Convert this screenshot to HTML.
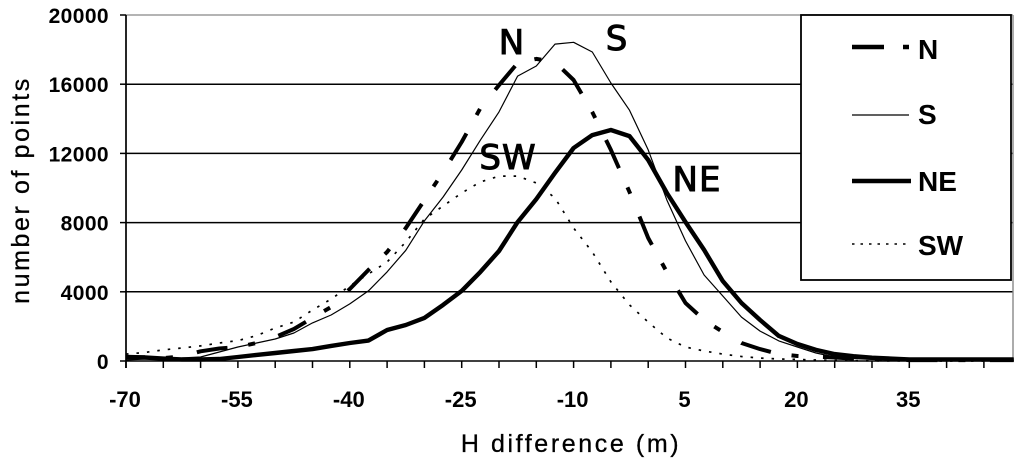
<!DOCTYPE html>
<html>
<head>
<meta charset="utf-8">
<style>
html,body{margin:0;padding:0;background:#fff;width:1024px;height:468px;overflow:hidden}
svg{display:block;filter:blur(0.35px)}
text{font-family:"Liberation Sans",Arial,sans-serif;fill:#000}
.tick{font-size:21px;font-weight:bold}
.xtick{font-size:22px;font-weight:bold}
.leg{font-size:28px;font-weight:bold}
.ann{font-family:"DejaVu Sans",sans-serif;font-size:34px;text-anchor:middle;stroke:#000;stroke-width:1px;letter-spacing:1px}
.title{stroke:#000;stroke-width:.3px}
</style>
</head>
<body>
<svg id="chart" width="1024" height="468" viewBox="0 0 1024 468" xmlns="http://www.w3.org/2000/svg">
<g id="grid"></g>
<g id="axes"></g>
<g id="series"></g>
<g id="labels"></g>
<text class="title" x="29" y="190" transform="rotate(-90 29 190)" text-anchor="middle" font-size="25" letter-spacing="2.6">number of points</text>
<text class="title" x="571" y="452" text-anchor="middle" font-size="25" letter-spacing="2.6">H difference (m)</text>
<text class="ann" x="512" y="54">N</text>
<text class="ann" x="617" y="50">S</text>
<text class="ann" x="508" y="169">SW</text>
<text class="ann" x="697" y="191">NE</text>
<g>
<rect x="801" y="15" width="210" height="265" fill="#fff" stroke="#000" stroke-width="1.8"/>
<line x1="852" y1="47" x2="884" y2="47" stroke="#000" stroke-width="4.5"/>
<line x1="903" y1="47" x2="909" y2="47" stroke="#000" stroke-width="4.5"/>
<text class="leg" x="918" y="59">N</text>
<line x1="852" y1="115" x2="909" y2="115" stroke="#000" stroke-width="1.2"/>
<text class="leg" x="918" y="124">S</text>
<line x1="852" y1="181" x2="911" y2="181" stroke="#000" stroke-width="4.5"/>
<text class="leg" x="918" y="191">NE</text>
<line x1="852" y1="244" x2="909" y2="244" stroke="#000" stroke-width="1.6" stroke-dasharray="2.5 6"/>
<text class="leg" x="918" y="255">SW</text>
</g>
</svg>
<script>
var hDiff = [-70,-67.5,-65,-62.5,-60,-57.5,-55,-52.5,-50,-47.5,-45,-42.5,-40,-37.5,-35,-32.5,-30,-27.5,-25,-22.5,-20,-17.5,-15,-12.5,-10,-7.5,-5,-2.5,0,2.5,5,7.5,10,12.5,15,17.5,20,22.5,25,27.5,30,35,40,49];
var seriesN = [220,220,170,260,560,720,810,1040,1390,1850,2490,3120,4160,5260,6300,7690,9300,10920,12660,14620,15950,17220,17460,17280,16240,14390,12200,9770,7110,5140,3350,2370,1680,1040,690,400,290,240,200,140,100,50,50,50];
var seriesS = [60,115,145,175,230,520,810,1040,1270,1620,2200,2660,3300,4050,5150,6400,8100,9480,11040,12770,14400,16470,17050,18320,18420,17860,16070,14500,12200,9300,6940,4970,3760,2540,1730,1160,810,460,230,145,90,60,50,40];
var seriesNE = [230,200,140,90,90,115,230,350,460,580,690,870,1040,1180,1790,2080,2490,3240,4050,5150,6360,8030,9360,10870,12310,13060,13350,13000,11620,9710,8030,6420,4620,3350,2370,1450,980,640,400,280,190,90,90,90];
var seriesSW = [400,490,640,750,870,1040,1180,1470,1910,2250,2950,3580,4340,5030,5720,6880,8210,8960,9710,10350,10690,10690,10290,9420,7690,6300,4570,3240,2250,1330,810,580,400,260,170,115,90,60,30,20,10,0,0,0];
var yTicks = [0,4000,8000,12000,16000,20000];
var xTickLabels = [-70,-55,-40,-25,-10,5,20,35];
var xTickMarks = [-70,-65,-60,-55,-50,-45,-40,-35,-30,-25,-20,-15,-10,-5,0,5,10,15,20,25,30,35,40,45];

var NS = 'http://www.w3.org/2000/svg';
function xScale(v){ return 126 + (v + 70) * 7.46; }
function yScale(v){ return 361 - v * 0.0173; }
function make(tag, parent, attrs){
  var el = document.createElementNS(NS, tag);
  for (var k in attrs) el.setAttribute(k, attrs[k]);
  parent.appendChild(el);
  return el;
}
var grid = document.getElementById('grid');
var axes = document.getElementById('axes');
var labels = document.getElementById('labels');
var seriesG = document.getElementById('series');

yTicks.forEach(function(t){
  var y = yScale(t);
  var top = t === 20000;
  var gl = make('line', grid, {x1:126, y1:y, x2:1013, y2:y, stroke: top ? '#888' : '#000', 'stroke-width': top ? 1.2 : 1.5});
  
  
  var tk = make('line', axes, {x1:120, y1:y, x2:126, y2:y, stroke:'#000', 'stroke-width':1.5});
  
  
  var lb = make('text', labels, {x:109, y:y + 8, 'text-anchor':'end', 'class':'tick', 'letter-spacing':'0.4'});
  
  
  lb.textContent = t;
});
xTickMarks.forEach(function(t){
  var x = xScale(t);
  var tk = make('line', axes, {x1:x, y1:361, x2:x, y2:368, stroke:'#000', 'stroke-width':1.5});
  
  
});
xTickLabels.forEach(function(t){
  var lb = make('text', labels, {x:xScale(t) - 1, y:407, 'text-anchor':'middle', 'class':'xtick'});
  
  
  lb.textContent = t;
});
var leftAxis = make('line', axes, {x1:126, y1:15, x2:126, y2:368, stroke:'#000', 'stroke-width':1.7});


var rightEdge = make('line', axes, {x1:1013, y1:15, x2:1013, y2:361, stroke:'#888', 'stroke-width':1.4});



function pts(vals){
  return vals.map(function(v, i){ return xScale(hDiff[i]).toFixed(1) + ',' + yScale(v).toFixed(1); }).join(' ');
}
function draw(vals, width, dash, offset){
  var attrs = {points:pts(vals), fill:'none', stroke:'#000', 'stroke-width':width, 'stroke-linejoin':'round'};
  if (dash) { attrs['stroke-dasharray'] = dash; attrs['stroke-dashoffset'] = offset; }
  return make('polyline', seriesG, attrs);
}
var lineSW = draw(seriesSW, 1.7, '2.5 8', 0);


var lineS = draw(seriesS, 1.2, null, 0);


var lineN = draw(seriesN, 4, '31 21 7 24.5', 12);


var lineNE = draw(seriesNE, 4.4, null, 0);


</script>
</body>
</html>
